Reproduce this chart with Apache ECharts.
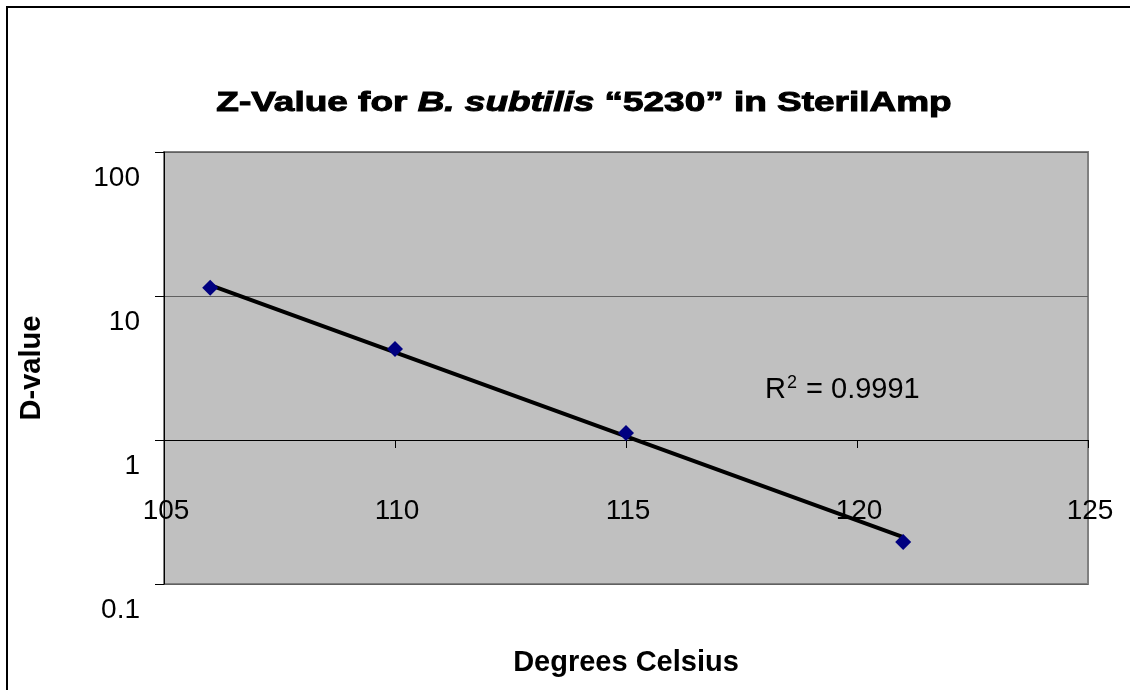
<!DOCTYPE html>
<html>
<head>
<meta charset="utf-8">
<style>
  html, body { margin: 0; padding: 0; background: #fff; }
  #zchart { width: 1130px; height: 690px; }
</style>
<script src="https://cdn.jsdelivr.net/npm/echarts@6/dist/echarts.min.js"></script>
</head>
<body>
<div id="zchart"></div>
<script>
// measured D-values (minutes) at each temperature
var temps = [106, 110, 115, 121];
var dValues = [11.4, 4.28, 1.12, 0.196];

// exponential trendline as drawn, read at its two ends
var trendTemps = [106, 121];
var trendValues = [11.9, 0.212];

var xTicks = [105, 110, 115, 120, 125];
var yTicks = [0.1, 1, 10, 100];
var r2Text = '0.9991';

var font = 'Liberation Sans, Arial, sans-serif';

var chartDom = document.getElementById('zchart');
var zChart = echarts.init(chartDom, null, {renderer: 'canvas'});

var option = {
    backgroundColor: '#fff',
    animation: false,
    grid: {
        left: 164,
        top: 152,
        width: 924,
        height: 432,
        show: true,
        backgroundColor: '#c0c0c0',
        borderColor: '#808080',
        borderWidth: 2
    },
    xAxis: {
        type: 'value',
        min: xTicks[0],
        max: xTicks[xTicks.length - 1],
        interval: 5,
        position: 'bottom',
        offset: -144,
        name: 'Degrees Celsius',
        nameLocation: 'middle',
        nameGap: 208,
        nameTextStyle: {fontFamily: font, fontSize: 29, fontWeight: 'bold', color: '#000'},
        axisLine: {show: true, lineStyle: {color: '#000', width: 1}},
        axisTick: {show: true, length: 8, lineStyle: {color: '#000'}},
        axisLabel: {
            margin: 57,
            fontFamily: font,
            fontSize: 28,
            color: '#000',
            padding: [0, 0, 0, 4]
        },
        splitLine: {show: false}
    },
    yAxis: {
        type: 'log',
        logBase: 10,
        min: yTicks[0],
        max: yTicks[yTicks.length - 1],
        name: 'D-value',
        nameLocation: 'middle',
        nameGap: 118,
        nameRotate: 90,
        nameTextStyle: {fontFamily: font, fontSize: 29, fontWeight: 'bold', color: '#000'},
        axisLine: {show: true, lineStyle: {color: '#000', width: 1}},
        axisTick: {show: true, length: 9, lineStyle: {color: '#000'}},
        axisLabel: {
            margin: 24,
            fontFamily: font,
            fontSize: 28,
            color: '#000',
            verticalAlign: 'top',
            padding: [12, 0, 0, 0],
            formatter: function (v) {
                return String(+Number(v).toPrecision(3));
            }
        },
        splitLine: {show: true, lineStyle: {color: '#606060', width: 1}}
    },
    graphic: [
        {
            type: 'rect',
            shape: {x: 7, y: 7, width: 1300, height: 1000},
            style: {fill: 'none', stroke: '#000', lineWidth: 2},
            silent: true
        },
        {
            // title is drawn wide and heavy in the original, so stretch it
            type: 'text',
            x: 584,
            y: 103,
            scaleX: 1.32,
            style: {
                text: '{b|Z-Value for }{i|B. subtilis}{b| “5230” in SterilAmp}',
                align: 'center',
                verticalAlign: 'middle',
                rich: {
                    b: {fontFamily: font, fontSize: 28, fontWeight: 'bold', fill: '#000', stroke: '#000', lineWidth: 1},
                    i: {fontFamily: font, fontSize: 28, fontWeight: 'bold', fontStyle: 'italic', fill: '#000', stroke: '#000', lineWidth: 1}
                }
            }
        },
        {
            type: 'text',
            x: 765,
            y: 390,
            style: {
                text: '{a|R}{s|2}{a| = ' + r2Text + '}',
                verticalAlign: 'middle',
                rich: {
                    a: {fontFamily: font, fontSize: 29, fill: '#000'},
                    s: {fontFamily: font, fontSize: 18, fill: '#000', verticalAlign: 'top', padding: [0, 1, 14, 1]}
                }
            }
        }
    ],
    series: [
        {
            name: 'Trend',
            type: 'line',
            data: trendTemps.map(function (t, i) { return [t, trendValues[i]]; }),
            showSymbol: false,
            symbol: 'none',
            lineStyle: {color: '#000', width: 4},
            z: 2
        },
        {
            name: 'D-value',
            type: 'scatter',
            data: temps.map(function (t, i) { return [t, dValues[i]]; }),
            symbol: 'diamond',
            symbolSize: [16, 16],
            itemStyle: {color: '#000080', opacity: 1},
            z: 3
        }
    ]
};

option && zChart.setOption(option);
</script>
</body>
</html>
